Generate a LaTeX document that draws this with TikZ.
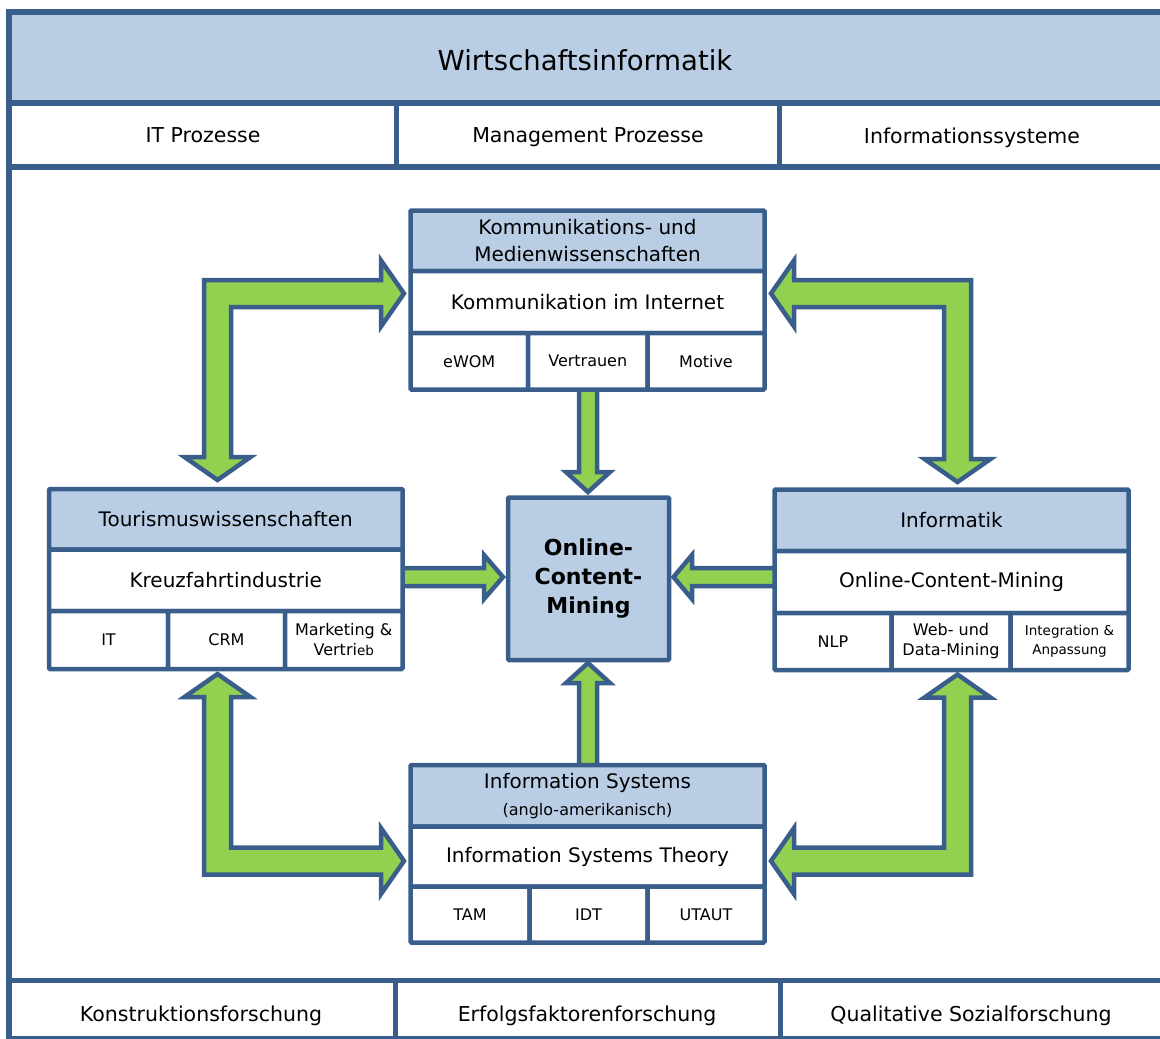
\documentclass[tikz,border=0pt]{standalone}
\usepackage{fontspec}
\setmainfont{DejaVu Sans}
\definecolor{edge}{RGB}{58,94,140}
\definecolor{lblue}{RGB}{185,205,229}
\definecolor{lgreen}{RGB}{146,208,80}

% one table cell: name, x1, y1, x2, y2, style, text
\newcommand\cellbox[7]{%
  \node[#6, minimum width={(#4)-(#2)}, minimum height={(#5)-(#3)}]
    (#1) at ({((#2)+(#4))/2},{((#3)+(#5))/2}) {#7};}

\begin{document}
\begin{tikzpicture}[x=1pt,y=-1pt,
  frame/.style={draw=edge, line width=5.5pt},
  divider/.style={draw=edge, line width=4.5pt},
  label/.style={anchor=mid, inner sep=0pt, font=\fontsize{20.5}{24}\selectfont},
  cell/.style={draw=edge, line width=4.5pt, fill=white, inner sep=0pt,
    align=center, rounded corners=1pt, font=\fontsize{20}{27}\selectfont},
  head/.style={cell, fill=lblue},
  small/.style={cell, font=\fontsize{16}{20}\selectfont},
  tiny/.style={cell, font=\fontsize{13.5}{19}\selectfont},
  core/.style={cell, fill=lblue, font=\fontsize{22}{29}\selectfont\bfseries},
  barrow/.style={draw=edge, fill=lgreen, line width=4.5pt, line join=miter}]
\useasboundingbox (0,0) rectangle (1160,1039);
\clip (0,0) rectangle (1160,1039);

% ---------- outer frame ----------
\fill[lblue] (9,12) rectangle (1175,103);
\draw[frame] (1175,12) -- (9,12) -- (9,1038.5) -- (1175,1038.5);
\draw[frame] (9,103) -- (1175,103);
\draw[frame] (9,167) -- (1175,167);
\draw[frame] (9,980.5) -- (1175,980.5);
\draw[divider] (396.5,103) -- (396.5,167);
\draw[divider] (779.5,103) -- (779.5,167);
\draw[divider] (395.5,980.5) -- (395.5,1038.5);
\draw[divider] (780.5,980.5) -- (780.5,1038.5);

\node[label, font=\fontsize{27.5}{30}\selectfont] (wi) at (585,68) {Wirtschaftsinformatik};
\node[label] (itp) at (203,140) {IT Prozesse};
\node[label] (mgp) at (588,140) {Management Prozesse};
\node[label] (ifs) at (972,141) {Informationssysteme};
\node[label] (kf) at (201,1019) {Konstruktionsforschung};
\node[label] (ef) at (587,1019) {Erfolgsfaktorenforschung};
\node[label] (qs) at (971,1019) {Qualitative Sozialforschung};

% ---------- block arrows ----------
% top left: Kommunikation <-> Tourismus
\draw[barrow] (404,293.5) -- (381,260.5) -- (381,280) -- (204,280) -- (204,457)
  -- (184.5,457) -- (217.5,480) -- (250.5,457) -- (231,457) -- (231,307)
  -- (381,307) -- (381,326.5) -- cycle;
% top right: Kommunikation <-> Informatik
\draw[barrow] (771,293.5) -- (794,260.5) -- (794,280) -- (971,280) -- (971,459)
  -- (990.5,459) -- (957.5,482) -- (924.5,459) -- (944,459) -- (944,307)
  -- (794,307) -- (794,326.5) -- cycle;
% bottom left: Tourismus <-> Information Systems
\draw[barrow] (217.5,674) -- (250.5,697) -- (231,697) -- (231,847.5) -- (381,847.5)
  -- (381,828) -- (404,861) -- (381,894) -- (381,874.5) -- (204,874.5)
  -- (204,697) -- (184.5,697) -- cycle;
% bottom right: Informatik <-> Information Systems
\draw[barrow] (957.5,674.5) -- (924.5,697.5) -- (944,697.5) -- (944,847.5) -- (794,847.5)
  -- (794,828) -- (771,861) -- (794,894) -- (794,874.5) -- (971,874.5)
  -- (971,697.5) -- (990.5,697.5) -- cycle;
% straight arrows into the centre
\draw[barrow] (579,385) -- (579,472) -- (566,472) -- (588,492) -- (610,472)
  -- (597,472) -- (597,385) -- cycle;
\draw[barrow] (579,770) -- (579,683) -- (566,683) -- (588,663) -- (610,683)
  -- (597,683) -- (597,770) -- cycle;
\draw[barrow] (398,568) -- (484,568) -- (484,555) -- (503,577) -- (484,599)
  -- (484,586) -- (398,586) -- cycle;
\draw[barrow] (779,568) -- (692,568) -- (692,555) -- (673.5,577) -- (692,599)
  -- (692,586) -- (779,586) -- cycle;

% ---------- Kommunikations- und Medienwissenschaften ----------
\cellbox{komh}{410.5}{210.5}{764.5}{271}{head}{Kommunikations- und\\Medienwissenschaften}
\cellbox{komm}{410.5}{271}{764.5}{333}{cell}{Kommunikation im Internet}
\cellbox{koma}{410.5}{333}{528}{389.5}{small}{eWOM}
\cellbox{komb}{528}{333}{647.5}{389.5}{small}{Vertrauen}
\cellbox{komc}{647.5}{333}{764.5}{389.5}{small}{Motive}

% ---------- Tourismuswissenschaften ----------
\cellbox{touh}{49}{489}{402.5}{549.5}{head}{Tourismuswissenschaften}
\cellbox{toum}{49}{549.5}{402.5}{611}{cell}{Kreuzfahrtindustrie}
\cellbox{toua}{49}{611}{168}{669}{small}{IT}
\cellbox{toub}{168}{611}{285}{669}{small}{CRM}
\cellbox{touc}{285}{611}{402.5}{669}{small}{Marketing \&\\Vertri{\fontsize{13.5}{20}\selectfont eb}}

% ---------- Informatik ----------
\cellbox{infh}{774.5}{489.5}{1128.5}{551}{head}{Informatik}
\cellbox{infm}{774.5}{551}{1128.5}{613}{cell}{Online-Content-Mining}
\cellbox{infa}{774.5}{613}{891.5}{670}{small}{NLP}
\cellbox{infb}{891.5}{613}{1010.5}{670}{small}{Web- und\\Data-Mining}
\cellbox{infc}{1010.5}{613}{1128.5}{670}{tiny}{Integration \&\\Anpassung}

% ---------- Information Systems ----------
\cellbox{ish}{410.5}{765}{764.5}{826.5}{head}{Information Systems\\{\fontsize{16}{19}\selectfont(anglo-amerikanisch)}}
\cellbox{ism}{410.5}{826.5}{764.5}{886.5}{cell}{Information Systems Theory}
\cellbox{isa}{410.5}{886.5}{529.5}{942.5}{small}{TAM}
\cellbox{isb}{529.5}{886.5}{647.5}{942.5}{small}{IDT}
\cellbox{isc}{647.5}{886.5}{764.5}{942.5}{small}{UTAUT}

% ---------- centre ----------
\cellbox{ocm}{508}{497.5}{669}{660}{core}{Online-\\Content-\\Mining}
\end{tikzpicture}
\end{document}
